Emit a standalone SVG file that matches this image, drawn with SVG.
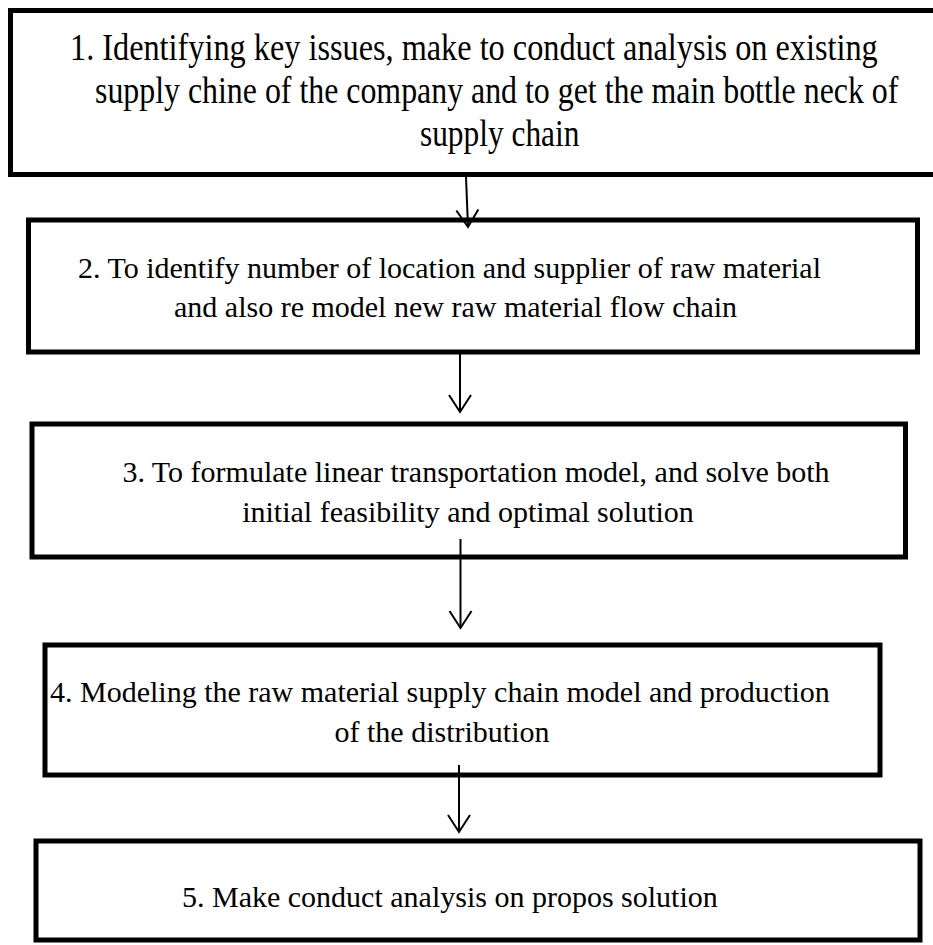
<svg xmlns="http://www.w3.org/2000/svg" width="933" height="945" viewBox="0 0 933 945">
  <style>
    .box { fill: #ffffff; stroke: #000000; stroke-width: 5; }
    .lbl { font-family: "Liberation Serif", "Times New Roman", serif; font-size: 30px; fill: #000000; }
    .lbl1 { font-family: "Liberation Serif", "Times New Roman", serif; font-size: 37px; fill: #000000; }
    .conn { stroke: #000000; stroke-width: 2; fill: none; }
  </style>
  <defs>
    <!-- open chevron head, drawn along +x and rotated to the line direction -->
    <marker id="arrow" markerWidth="24" markerHeight="26" refX="19" refY="12" orient="auto" markerUnits="userSpaceOnUse">
      <path d="M2,1 L19,12 L2,23" fill="none" stroke="#000000" stroke-width="2"/>
    </marker>
  </defs>
  <rect width="933" height="945" fill="#ffffff"/>

  <g id="node1">
    <rect class="box" x="10.5" y="10.5" width="930" height="164"/>
    <!-- condensed lettering for the first step -->
    <g transform="scale(0.862,1)">
      <text class="lbl1" x="81.2" y="60" textLength="937" lengthAdjust="spacingAndGlyphs">1. Identifying key issues, make to conduct analysis on existing</text>
      <text class="lbl1" x="110.2" y="103" textLength="932" lengthAdjust="spacingAndGlyphs">supply chine of the company and to get the main bottle neck of</text>
      <text class="lbl1" x="487.2" y="146" textLength="185" lengthAdjust="spacingAndGlyphs">supply chain</text>
    </g>
  </g>

  <g id="node2">
    <rect class="box" x="28.5" y="220" width="889" height="132"/>
    <text class="lbl" x="78" y="278">2. To identify number of location and supplier of raw material</text>
    <text class="lbl" x="174" y="317">and also re model new raw material flow chain</text>
  </g>

  <g id="node3">
    <rect class="box" x="32" y="424" width="873.5" height="133"/>
    <text class="lbl" x="476" y="482" text-anchor="middle">3. To formulate linear transportation model, and solve both</text>
    <text class="lbl" x="468" y="522" text-anchor="middle">initial feasibility and optimal solution</text>
  </g>

  <g id="node4">
    <rect class="box" x="45" y="645" width="835" height="130"/>
    <text class="lbl" x="50" y="702">4. Modeling the raw material supply chain model and production</text>
    <text class="lbl" x="442" y="742" text-anchor="middle">of the distribution</text>
  </g>

  <g id="node5">
    <rect class="box" x="36" y="841" width="884" height="99"/>
    <text class="lbl" x="182" y="907">5. Make conduct analysis on propos solution</text>
  </g>

  <g id="connectors">
    <line class="conn" x1="466" y1="177" x2="468" y2="227" marker-end="url(#arrow)"/>
    <line class="conn" x1="460" y1="354" x2="460" y2="412" marker-end="url(#arrow)"/>
    <line class="conn" x1="460.5" y1="539" x2="460.5" y2="628" marker-end="url(#arrow)"/>
    <line class="conn" x1="459" y1="765" x2="459" y2="832" marker-end="url(#arrow)"/>
  </g>
</svg>
